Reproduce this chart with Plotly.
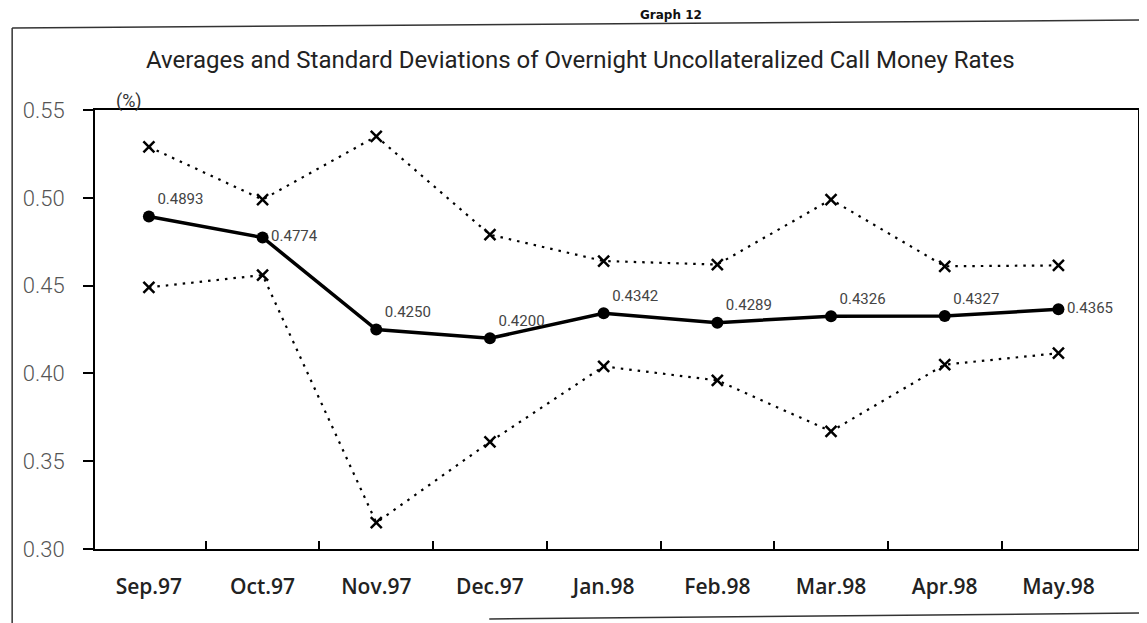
import plotly.graph_objects as go

# data (percent)
months = ["Sep.97", "Oct.97", "Nov.97", "Dec.97", "Jan.98", "Feb.98", "Mar.98", "Apr.98", "May.98"]
average = [0.4893, 0.4774, 0.4250, 0.4200, 0.4342, 0.4289, 0.4326, 0.4327, 0.4365]
upper = [0.529, 0.499, 0.535, 0.479, 0.464, 0.462, 0.499, 0.461, 0.4615]
lower = [0.449, 0.456, 0.315, 0.361, 0.404, 0.396, 0.367, 0.405, 0.4115]
y_ticks = [0.30, 0.35, 0.40, 0.45, 0.50, 0.55]
label_pos = ["top right", "middle right", "top right", "top right", "top right",
             "top right", "top right", "top right", "middle right"]

title = "Averages and Standard Deviations of Overnight Uncollateralized Call Money Rates"

# the page body adds an 8px margin, so the figure is a bit smaller than the window
OFF = 8
W, H = 1147 - OFF, 623 - OFF
ML, MR, MT, MB = 95 - OFF, 7, 110 - OFF, 74
thin = "Roboto, Liberation Sans, sans-serif"
y_range = [y_ticks[0], y_ticks[-1]]


def px(x, y):
    """window pixel -> paper coords"""
    pw, ph = W - ML - MR, H - MT - MB
    return (x - OFF - ML) / pw, 1 - (y - OFF - MT) / ph


x = list(range(len(months)))

fig = go.Figure()
for band in (upper, lower):
    fig.add_trace(go.Scatter(
        x=x, y=band, mode="lines+markers",
        line=dict(color="black", width=2.2, dash="2.5px,6px"),
        marker=dict(symbol="x-thin", size=11, line=dict(color="black", width=2.5)),
        hoverinfo="skip",
    ))
fig.add_trace(go.Scatter(
    x=x, y=average, mode="lines+markers+text",
    line=dict(color="black", width=3.5),
    marker=dict(symbol="circle", size=12, color="black"),
    text=[f"{v:.4f}" for v in average],
    textposition=label_pos,
    textfont=dict(family=thin, size=15, color="#444"),
))

# edges of the scanned page
shapes = []
for (x0, y0), (x1, y1) in [((12, 28), (12, 623)), ((12, 28), (1147, 20)), ((490, 619), (1147, 613))]:
    a, b = px(x0, y0)
    c, d = px(x1, y1)
    shapes.append(dict(type="line", xref="paper", yref="paper", x0=a, y0=b, x1=c, y1=d,
                       line=dict(color="#333", width=1.5)))

tx, ty = px(581, 60)
pcx, pcy = px(129, 101)
gx, gy = px(672, 15)
fig.update_layout(
    width=W, height=H,
    margin=dict(l=ML, r=MR, t=MT, b=MB),
    paper_bgcolor="white", plot_bgcolor="white",
    showlegend=False,
    shapes=shapes,
    annotations=[
        dict(text=title, x=tx, y=ty, font=dict(family=thin, size=24, color="#222")),
        dict(text="(%)", x=pcx, y=pcy, font=dict(family=thin, size=18, color="#333")),
        dict(text="<b>Graph 12</b>", x=gx, y=gy,
             font=dict(family="DejaVu Sans", size=12, color="#111")),
    ],
    # second y axis only to draw the inner half of the crossing ticks
    yaxis2=dict(overlaying="y", side="left", anchor="x", range=y_range, tickvals=y_ticks,
                ticks="inside", ticklen=10, tickwidth=1.5, tickcolor="black",
                showticklabels=False, showgrid=False, zeroline=False, showline=False),
)
fig.update_annotations(xref="paper", yref="paper", xanchor="center", yanchor="middle",
                       showarrow=False)
fig.update_xaxes(
    range=[-0.474, 8.70], tickvals=x, ticktext=months, ticks="",
    showgrid=False, zeroline=False,
    showline=True, mirror=True, linecolor="black", linewidth=2,
    ticklabelstandoff=18,
    tickfont=dict(family="Open Sans", size=21, color="#222", weight=600),
    minor=dict(tickvals=[i + 0.5 for i in x[:-1]], ticks="inside", ticklen=8,
               tickcolor="black", tickwidth=1.5),
)
fig.update_yaxes(
    selector=dict(overlaying=None),
    range=y_range, tickvals=y_ticks, tickformat=".2f",
    ticks="outside", ticklen=10, tickwidth=1.5, tickcolor="black",
    showgrid=False, zeroline=False,
    showline=True, mirror=True, linecolor="black", linewidth=2,
    ticklabelstandoff=14,
    tickfont=dict(family=thin, size=22, color="#555", weight=300),
)

fig.write_html("out.html")
